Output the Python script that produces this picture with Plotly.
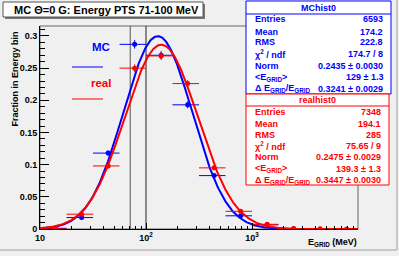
import numpy as np
import plotly.graph_objects as go

# ---------------- data ----------------
bin_edges = [10, 17.78, 31.62, 56.23, 100, 177.8, 316.2, 562.3, 1000, 1778, 3162, 5623, 10000]
mc_frac = [0.0008, 0.0178, 0.118, 0.287, 0.270, 0.193, 0.083, 0.0205, 0.0065, 0.0004, None, None]
mc_err = [0.0003, 0.0016, 0.004, 0.0066, 0.0064, 0.0054, 0.0035, 0.0018, 0.001, 0.0003, 0, 0]
real_frac = [0.0012, 0.023, 0.098, 0.250, 0.269, 0.226, 0.095, 0.0275, 0.0073, 0.0006, 0.0002, 0.0001]
real_err = [0.0004, 0.0018, 0.0037, 0.0058, 0.006, 0.0055, 0.0036, 0.0019, 0.001, 0.0003, 0.0002, 0.0001]

# fit parameters (Norm, <E_GRID>, dE/E) as given in the stat boxes
mc_fit_params = [0.2435, 129.0, 0.3241]
real_fit_params = [0.2475, 139.3, 0.3447]

cut_lines = [71, 100]
x_tick_vals = [10, 100, 1000]
x_tick_text = ["10", "10<sup>2</sup>", "10<sup>3</sup>"]
x_minor_vals = [m * d for d in (10, 100, 1000) for m in range(2, 10)]

mc_stats = [("Entries", "6593"), ("Mean", "174.2"), ("RMS", "222.8"),
            ("χ<sup>2</sup> / ndf", "174.7 / 8"), ("Norm", "0.2435 ± 0.0030"),
            ("&lt;E<sub>GRID</sub>&gt;", "129 ± 1.3"),
            ("Δ E<sub>GRID</sub>/E<sub>GRID</sub>", "0.3241 ± 0.0029")]
real_stats = [("Entries", "7348"), ("Mean", "194.1"), ("RMS", "285"),
              ("χ<sup>2</sup> / ndf", "75.65 / 9"), ("Norm", "0.2475 ± 0.0029"),
              ("&lt;E<sub>GRID</sub>&gt;", "139.3 ± 1.3"),
              ("Δ E<sub>GRID</sub>/E<sub>GRID</sub>", "0.3447 ± 0.0030")]

# ---------------- geometry helpers ----------------
W, H = 399, 256
L, R, T, B = 40, 41, 26, 27
FW, FH = W - L - R, H - T - B
YMAX = 0.3155


def px(x):
    return (x - L) / FW


def py(y):
    return (H - B - y) / FH


BLUE = "#0000ff"
RED = "#ff0000"
BG = "#f0f0f0"
FONT = "Liberation Sans"

lo = np.array(bin_edges[:-1])
hi = np.array(bin_edges[1:])
centers = (lo + hi) / 2


def gaus_log(e, p):
    norm, mean, width = p
    z = (np.log10(e) - np.log10(mean)) / width
    return norm / (width * np.sqrt(2 * np.pi)) * np.exp(-0.5 * z * z)


e_fine = np.logspace(1, 4, 600)

fig = go.Figure()

for xc, col in zip(cut_lines, ["#555555", "#222222"]):
    fig.add_trace(go.Scatter(x=[xc, xc], y=[0, YMAX], mode="lines",
                             line=dict(color=col, width=1), hoverinfo="skip", showlegend=False))


def add_hist(vals, errs, col):
    fig.add_trace(go.Scatter(
        x=centers, y=vals, mode="markers",
        marker=dict(color=col, size=5),
        error_x=dict(type="data", symmetric=False, array=hi - centers, arrayminus=centers - lo,
                     color=col, thickness=1, width=0),
        error_y=dict(type="data", array=errs, color=col, thickness=1, width=0),
        hoverinfo="skip", showlegend=False))


def add_fit(p, col):
    fig.add_trace(go.Scatter(x=e_fine, y=gaus_log(e_fine, p), mode="lines",
                             line=dict(color=col, width=2), hoverinfo="skip", showlegend=False))


add_hist(mc_frac, mc_err, BLUE)
add_fit(mc_fit_params, BLUE)
add_hist(real_frac, real_err, RED)
add_fit(real_fit_params, RED)

shapes = []
ann = []

# frame
shapes.append(dict(type="rect", xref="paper", yref="paper", x0=0, x1=1, y0=0, y1=1,
                   line=dict(color="#666666", width=1), layer="below"))

# legend lines
shapes.append(dict(type="line", xref="paper", yref="paper", x0=px(72), x1=px(103), y0=py(67), y1=py(67),
                   line=dict(color=BLUE, width=1)))
shapes.append(dict(type="line", xref="paper", yref="paper", x0=px(72), x1=px(103), y0=py(99), y1=py(99),
                   line=dict(color=RED, width=1)))
ann.append(dict(text="<b>MC</b>", x=px(101), y=py(47), xref="paper", yref="paper", showarrow=False,
                font=dict(family=FONT, size=11.5, color=BLUE), xanchor="center", yanchor="middle"))
ann.append(dict(text="<b>real</b>", x=px(101), y=py(83), xref="paper", yref="paper", showarrow=False,
                font=dict(family=FONT, size=11.5, color=RED), xanchor="center", yanchor="middle"))

# title box
shapes.append(dict(type="rect", xref="paper", yref="paper", x0=px(5), x1=px(205), y0=py(4), y1=py(19),
                   line=dict(width=0), fillcolor="#777777", layer="above"))
shapes.append(dict(type="rect", xref="paper", yref="paper", x0=px(3), x1=px(203), y0=py(2), y1=py(17),
                   line=dict(color="#555555", width=1), fillcolor="white", layer="above"))
ann.append(dict(text="<b>MC Θ=0 G: Energy PTS 71-100 MeV</b>", x=px(12), y=py(10), xref="paper",
                yref="paper", showarrow=False, font=dict(family=FONT, size=11, color="black"),
                xanchor="left", yanchor="middle"))


def stat_box(x0, x1, y0, y1, sep, title, title_y, rows, row_y, col):
    shapes.append(dict(type="rect", xref="paper", yref="paper", x0=px(x0), x1=px(x1), y0=py(y0), y1=py(y1),
                       line=dict(color=col, width=1), fillcolor="white", layer="above"))
    shapes.append(dict(type="line", xref="paper", yref="paper", x0=px(x0), x1=px(x1), y0=py(sep), y1=py(sep),
                       line=dict(color=col, width=1), layer="above"))
    ann.append(dict(text="<b>%s</b>" % title, x=px((x0 + x1) / 2), y=py(title_y), xref="paper", yref="paper",
                    showarrow=False, font=dict(family=FONT, size=9, color=col),
                    xanchor="center", yanchor="middle"))
    for (lab, val), yy in zip(rows, row_y):
        ann.append(dict(text="<b>%s</b>" % lab, x=px(x0 + 7), y=py(yy), xref="paper", yref="paper",
                        showarrow=False, font=dict(family=FONT, size=9, color=col),
                        xanchor="left", yanchor="middle"))
        ann.append(dict(text="<b>%s</b>" % val, x=px(x1 - 6), y=py(yy), xref="paper", yref="paper",
                        showarrow=False, font=dict(family=FONT, size=9, color=col),
                        xanchor="right", yanchor="middle"))


stat_box(246, 391, 1, 94, 14, "MChist0", 7.5, mc_stats, [19.5, 31.5, 42.5, 54, 65.5, 77, 88.5], BLUE)
stat_box(246, 389, 94, 185, 106, "realhist0", 100, real_stats, [112, 124, 134.5, 145.5, 157, 168.5, 180], RED)

# axis titles
ann.append(dict(text="<b>Fraction in Energy bin</b>", x=px(14), y=py(30), xref="paper", yref="paper",
                showarrow=False, textangle=-90, font=dict(family=FONT, size=9, color="black"),
                xanchor="center", yanchor="top"))
ann.append(dict(text="<b>E<sub>GRID</sub> (MeV)</b>", x=px(359), y=py(243), xref="paper", yref="paper",
                showarrow=False, font=dict(family=FONT, size=9, color="black"),
                xanchor="right", yanchor="middle"))

# canvas bevel
shapes.append(dict(type="line", xref="paper", yref="paper", x0=px(0), x1=px(397), y0=py(250), y1=py(250),
                   line=dict(color="#a0a0a0", width=1)))
shapes.append(dict(type="line", xref="paper", yref="paper", x0=px(397), x1=px(397), y0=py(0), y1=py(250),
                   line=dict(color="#a0a0a0", width=1)))

fig.update_layout(
    width=W, height=H, margin=dict(l=L, r=R, t=T, b=B, autoexpand=False),
    paper_bgcolor=BG, plot_bgcolor=BG,
    shapes=shapes, annotations=ann,
    xaxis=dict(type="log", range=[1, 4], showgrid=False, zeroline=False,
               showline=True, linecolor="black", linewidth=1,
               ticks="inside", ticklen=6, tickcolor="black",
               tickmode="array", tickvals=x_tick_vals, ticktext=x_tick_text,
               tickfont=dict(family=FONT, size=9, color="black", weight="bold"),
               minor=dict(tickmode="array", tickvals=x_minor_vals, ticks="inside", ticklen=3,
                          tickcolor="black", showgrid=False)),
    yaxis=dict(range=[0, YMAX], showgrid=False, zeroline=False,
               showline=True, linecolor="black", linewidth=1,
               ticks="inside", ticklen=9, tickcolor="black",
               tickmode="array", tickvals=[0, 0.05, 0.1, 0.15, 0.2, 0.25, 0.3],
               ticktext=["0", "0.05", "0.1", "0.15", "0.2", "0.25", "0.3"],
               tickfont=dict(family=FONT, size=9, color="black", weight="bold"),
               minor=dict(dtick=0.01, tick0=0, ticks="inside", ticklen=4.5, tickcolor="black", showgrid=False)),
)

fig.write_html("out.html", config={"displayModeBar": False},
               post_script="document.body.style.margin='0';")
